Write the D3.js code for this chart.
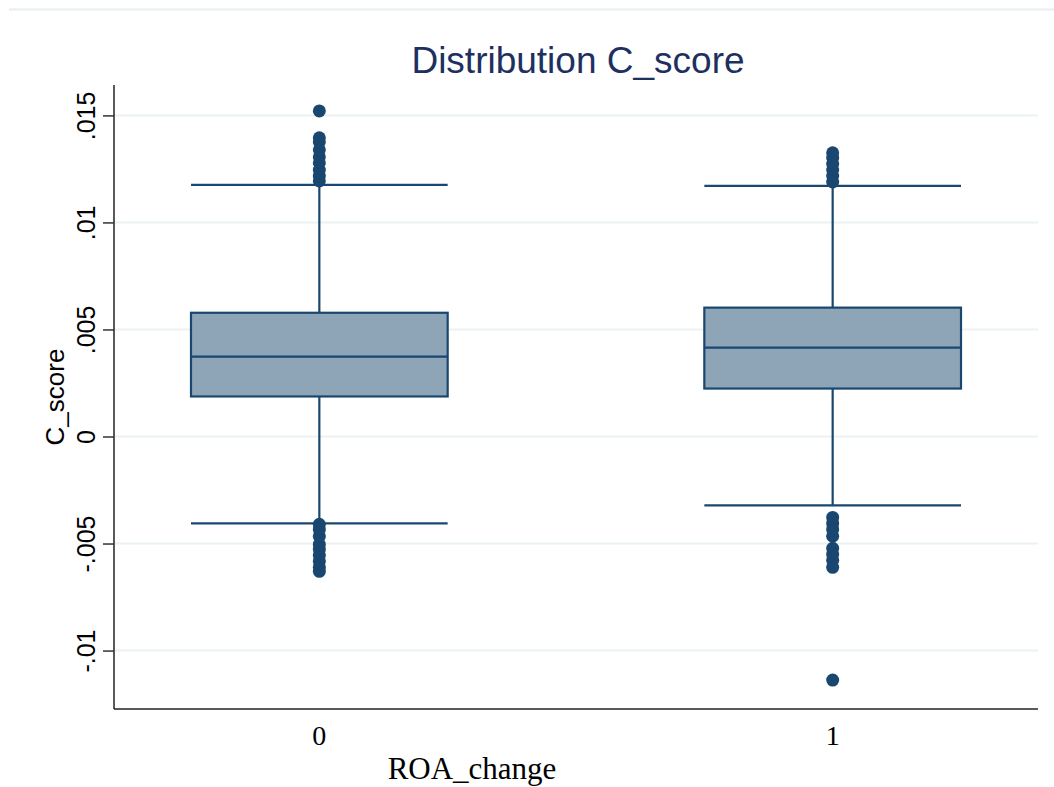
<!DOCTYPE html>
<html>
<head>
<meta charset="utf-8">
<script src="https://cdn.jsdelivr.net/npm/d3@7"></script>
<style>
  body { margin: 0; background: #fff; }
  svg { display: block; }
</style>
</head>
<body>
<svg id="chart" width="1054" height="787"></svg>
<script>
// --- data ---
const groups = ["0", "1"];
const q1 = [0.00187, 0.00224];
const median = [0.00373, 0.00415];
const q3 = [0.00578, 0.00602];
const whiskerLow = [-0.00406, -0.00322];
const whiskerHigh = [0.01175, 0.01171];
const outliers0 = [0.01521, 0.01395, 0.01376, 0.01339, 0.01306, 0.01278, 0.01245, 0.01217, 0.01194,
                   -0.00410, -0.00434, -0.00466, -0.00504, -0.00527, -0.00555, -0.00583, -0.00611, -0.00630];
const outliers1 = [0.01325, 0.01301, 0.01273, 0.01245, 0.01217, 0.01189,
                   -0.00378, -0.00406, -0.00434, -0.00466, -0.00522, -0.00550, -0.00578, -0.00611, -0.01138];
const yTicks = [-0.01, -0.005, 0, 0.005, 0.01, 0.015];
const yTickLabels = ["-.01", "-.005", "0", ".005", ".01", ".015"];

const navy = "#1a476f";
const svg = d3.select("#chart");

// --- layout ---
const plotLeft = 114, plotRight = 1038, plotTop = 85, plotBottom = 709;

const y = d3.scaleLinear().domain([-0.01273, 0.01642]).range([plotBottom, plotTop]);
const x = d3.scalePoint().domain(groups).range([plotLeft, plotRight]).padding(0.4);
const boxW = x.step() * 0.5;

// outer border line at top
svg.append("line")
    .attr("x1", 9).attr("x2", 1054).attr("y1", 9.5).attr("y2", 9.5)
    .attr("stroke", "#e8eeef").attr("stroke-width", 2);

// gridlines
svg.append("g").selectAll("line").data(yTicks).join("line")
    .attr("x1", plotLeft).attr("x2", plotRight)
    .attr("y1", d => y(d)).attr("y2", d => y(d))
    .attr("stroke", "#eaf2f3").attr("stroke-width", 2);

// y axis
const yAxis = d3.axisLeft(y).tickValues(yTicks)
    .tickFormat((d, i) => yTickLabels[i]).tickSize(11).tickPadding(6);
const gy = svg.append("g").attr("transform", `translate(${plotLeft},0)`).call(yAxis);
gy.select(".domain").attr("d", `M0,${plotTop}V${plotBottom}`).attr("stroke", "#222").attr("stroke-width", 1.5);
gy.selectAll(".tick line").attr("stroke", "#333").attr("stroke-width", 1.5);
gy.selectAll(".tick text")
    .attr("transform", "rotate(-90)")
    .attr("x", 0).attr("y", -28)
    .attr("dy", "0.35em")
    .attr("text-anchor", "middle")
    .attr("font-family", "'Liberation Sans', Arial, sans-serif")
    .attr("font-size", 25).attr("fill", "#000");

// x axis line
svg.append("line")
    .attr("x1", plotLeft).attr("x2", plotRight).attr("y1", plotBottom).attr("y2", plotBottom)
    .attr("stroke", "#222").attr("stroke-width", 1.5);

// x tick labels
svg.append("g").selectAll("text").data(groups).join("text")
    .attr("x", d => x(d)).attr("y", 745)
    .attr("text-anchor", "middle")
    .attr("font-family", "'Liberation Serif', 'Times New Roman', serif")
    .attr("font-size", 28).attr("fill", "#000")
    .text(d => d);

// axis titles
svg.append("text")
    .attr("x", 472).attr("y", 779)
    .attr("text-anchor", "middle")
    .attr("font-family", "'Liberation Serif', 'Times New Roman', serif")
    .attr("font-size", 31).attr("fill", "#000")
    .text("ROA_change");

svg.append("text")
    .attr("transform", `translate(64,${(plotTop + plotBottom) / 2}) rotate(-90)`)
    .attr("text-anchor", "middle")
    .attr("font-family", "'Liberation Sans', Arial, sans-serif")
    .attr("font-size", 26).attr("fill", "#000")
    .text("C_score");

// title
svg.append("text")
    .attr("x", 578).attr("y", 73)
    .attr("text-anchor", "middle")
    .attr("font-family", "'Liberation Sans', Arial, sans-serif")
    .attr("font-size", 37).attr("fill", "#1e3060")
    .text("Distribution C_score");

// boxes
const boxes = groups.map((g, i) => ({
    g, q1: q1[i], med: median[i], q3: q3[i], lo: whiskerLow[i], hi: whiskerHigh[i],
    out: i === 0 ? outliers0 : outliers1
}));

const bg = svg.append("g").selectAll("g").data(boxes).join("g");

// whisker stems
bg.append("line")
    .attr("x1", d => x(d.g)).attr("x2", d => x(d.g))
    .attr("y1", d => y(d.hi)).attr("y2", d => y(d.q3))
    .attr("stroke", navy).attr("stroke-width", 2.2);
bg.append("line")
    .attr("x1", d => x(d.g)).attr("x2", d => x(d.g))
    .attr("y1", d => y(d.q1)).attr("y2", d => y(d.lo))
    .attr("stroke", navy).attr("stroke-width", 2.2);

// whisker caps
bg.selectAll("line.cap").data(d => [d.hi, d.lo].map(v => ({ g: d.g, v }))).join("line")
    .attr("class", "cap")
    .attr("x1", d => x(d.g) - boxW / 2).attr("x2", d => x(d.g) + boxW / 2)
    .attr("y1", d => y(d.v)).attr("y2", d => y(d.v))
    .attr("stroke", navy).attr("stroke-width", 2.2);

// box
bg.append("rect")
    .attr("x", d => x(d.g) - boxW / 2).attr("width", boxW)
    .attr("y", d => y(d.q3)).attr("height", d => y(d.q1) - y(d.q3))
    .attr("fill", "#8ea5b8").attr("stroke", navy).attr("stroke-width", 2.2);

// median
bg.append("line")
    .attr("x1", d => x(d.g) - boxW / 2).attr("x2", d => x(d.g) + boxW / 2)
    .attr("y1", d => y(d.med)).attr("y2", d => y(d.med))
    .attr("stroke", navy).attr("stroke-width", 2.2);

// outliers
bg.selectAll("circle").data(d => d.out.map(v => ({ g: d.g, v }))).join("circle")
    .attr("cx", d => x(d.g)).attr("cy", d => y(d.v)).attr("r", 6.5)
    .attr("fill", navy);
</script>
</body>
</html>
